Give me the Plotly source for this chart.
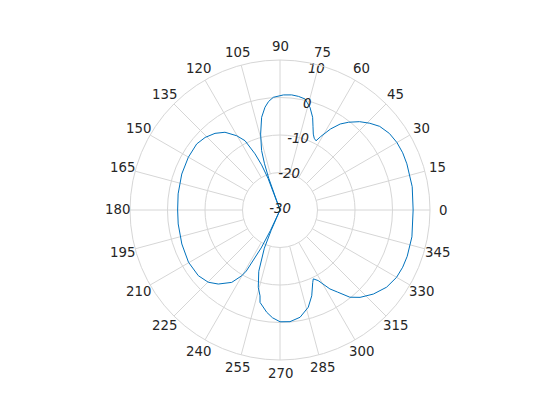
import math
import plotly.graph_objects as go

# Data (angle in degrees, gain in dB)
theta_deg = [0, 10, 20, 25, 30, 35, 40, 44, 48, 52, 55, 58, 61, 62.5, 64.5, 66.3, 68.5,
             70.6, 73.7, 77.3, 80.8, 84.2, 88.3, 93.4, 96, 98.3, 101.2, 104.3, 107.2,
             108.5, 109.5, 110.1, 110.7, 112.2, 114, 116.8, 120.2, 125.3, 130.3, 135.9,
             141.6, 150.1, 159.9, 171, 180, 187.8, 199.1, 209.7, 218.8, 225.2, 230.2,
             236.3, 239.8, 241.1, 243.6, 245, 245.8, 246.6, 247.7, 250.9, 254.3, 256.9,
             257.8, 262.6, 266, 270, 275.1, 280.6, 286.2, 290.3, 294.3, 295.8, 298.4,
             302.3, 305, 308.7, 312.5, 318, 324.1, 330, 335, 340, 348.5, 360]
gain_db = [5.5, 5.8, 6.0, 6.1, 6.0, 5.6, 4.7, 3.3, 1.7, -0.3, -2.0, -4.5, -7.6, -9.2, -8.8,
           -7.9, -6.0, -3.8, -1.5, 0.35, 0.7, 0.85, 0.7, 0.1, -0.9, -2.3, -4.8, -9.1, -13.4,
           -17.0, -21.0, -30.0, -21.0, -17.0, -13.6, -9.3, -7.1, -4.6, -3.2, -2.2,
           -1.65, -1.8, -2.1, -2.5, -2.7, -2.6, -2.3, -1.9, -2.05, -2.85, -4.3,
           -6.8, -9.7, -11.4, -18.7, -24.0, -30.0, -24.0, -19.0, -12.7, -8.6, -6.5,
           -4.8, -2.5, -1.2, -0.2, -0.1, -0.9, -3.0, -5.6, -8.8, -9.6, -8.6,
           -5.1, -3.3, -0.2, 1.6, 3.5, 5.1, 5.9, 6.1, 6.1, 5.9, 5.5]

angle_ticks = list(range(0, 360, 15))
angle_labels = [str(a) for a in angle_ticks]
r_ticks = [-30, -20, -10, 0, 10]
r_labels = [str(v) for v in r_ticks]

r_min, r_max = -30, 10
grid_col = "#d6d6d6"
txt_col = "#262626"
font_family = "DejaVu Sans"
font_size = 13.3

# layout geometry
W, H = 560, 420
ML, MR, MT, MB = 130, 130, 60, 60
R_PX = (W - ML - MR) / 2.0
LABEL_PX = 163.0  # radius at which angle labels are centred

fig = go.Figure()

# spokes (MATLAB style: start at the second ring)
sp_t, sp_r = [], []
for a in angle_ticks:
    sp_t += [a, a, None]
    sp_r += [r_ticks[1], r_max, None]
fig.add_trace(go.Scatterpolar(theta=sp_t, r=sp_r, mode="lines",
                              line=dict(color=grid_col, width=1),
                              hoverinfo="skip", showlegend=False))

fig.add_trace(go.Scatterpolar(theta=theta_deg, r=gain_db, mode="lines",
                              line=dict(color="#0072BD", width=1),
                              showlegend=False))

# radial labels along ~75 degrees
rl_r = [r_min + (v - r_min) * 0.968 for v in r_ticks]
fig.add_trace(go.Scatterpolar(theta=[75.5] * len(r_ticks), r=rl_r,
                              mode="text", text=r_labels, textposition="middle center",
                              textfont=dict(family=font_family, size=font_size, color=txt_col,
                                            style="italic"),
                              cliponaxis=False, hoverinfo="skip", showlegend=False))

# angle labels centred on a circle outside the plot (paper coordinates)
annotations = []
for a, lab in zip(angle_ticks, angle_labels):
    t = math.radians(a)
    fx = 0.5 + LABEL_PX * math.cos(t) / (2 * R_PX)
    fy = 0.5 + LABEL_PX * math.sin(t) / (2 * R_PX)
    annotations.append(dict(x=fx, y=fy, xref="paper", yref="paper", text=lab,
                            showarrow=False, xanchor="center", yanchor="middle",
                            font=dict(family=font_family, size=font_size, color=txt_col)))

fig.update_layout(
    width=W, height=H,
    margin=dict(l=ML, r=MR, t=MT, b=MB),
    paper_bgcolor="white",
    showlegend=False,
    annotations=annotations,
    polar=dict(
        bgcolor="white",
        domain=dict(x=[0, 1], y=[0, 1]),
        radialaxis=dict(range=[r_min, r_max], tickvals=r_ticks, showticklabels=False,
                        showline=False, ticks="", gridcolor=grid_col, gridwidth=1),
        angularaxis=dict(tickvals=angle_ticks, showticklabels=False,
                         direction="counterclockwise", rotation=0,
                         showgrid=False, showline=True, linecolor=grid_col, linewidth=1,
                         ticks=""),
    ),
)

fig.write_html("out.html", config={"displayModeBar": False},
               post_script="document.body.style.margin='0px';")
